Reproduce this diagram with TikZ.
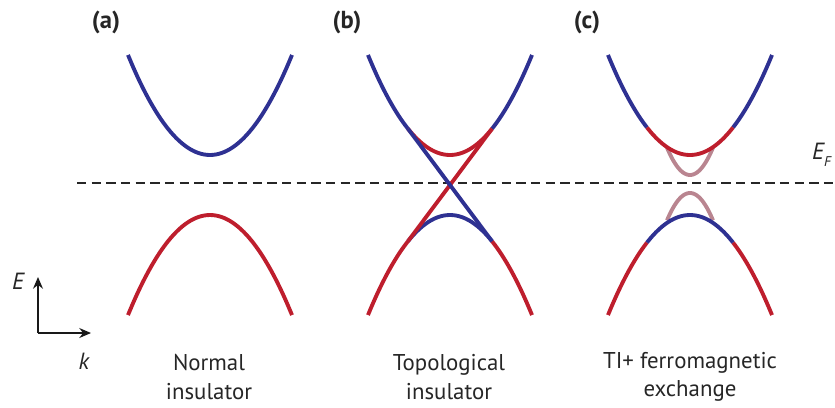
\documentclass[tikz,border=0pt]{standalone}
\usepackage{fontspec}
\setmainfont{PT Sans}
\usetikzlibrary{arrows.meta,positioning}
\definecolor{bandBlue}{HTML}{2E3192}
\definecolor{bandRed}{HTML}{BE1E2D}
\definecolor{bandPink}{HTML}{B98590}

\begin{document}
\begin{tikzpicture}[
    x=0.03cm, y=-0.03cm,
    band/.style={line width=3.3pt, smooth, samples=30},
    fermi/.style={line width=1.6pt, draw=black!85, dash pattern=on 8pt off 4.5pt},
    axis/.style={-{Stealth[length=10pt, width=8.5pt]}, line width=1.5pt, draw=black!90},
    panel/.style={font=\fontsize{21}{24}\selectfont\bfseries, text=black!85},
    caption/.style={align=center, font=\fontsize{19.5}{24}\selectfont, text=black!85},
    axlabel/.style={font=\fontsize{20}{22}\selectfont\itshape, text=black!85}
  ]
    \useasboundingbox (0,0) rectangle (835,407);

    % Fermi level
    \coordinate (fl) at (77,183);
    \coordinate (fr) at (835,183);
    \draw[fermi] (fl) -- (fr);
    \node[axlabel, anchor=base west, inner sep=0pt] (ef) at (812,159)
      {E\raisebox{-0.6ex}{\fontsize{12}{13}\selectfont F}};

    % (a) normal insulator
    \draw[band, bandBlue] plot[domain=-82:82] ({210+\x},{155-0.01487*\x*\x});
    \draw[band, bandRed] plot[domain=-82:82] ({210+\x},{215+0.01487*\x*\x});

    % (b) topological insulator
    \draw[band, bandBlue] plot[domain=-82:-42] ({450+\x},{155-0.01487*\x*\x});
    \draw[band, bandBlue] plot[domain=42:82] ({450+\x},{155-0.01487*\x*\x});
    \draw[band, bandRed] plot[domain=-42:42] ({450+\x},{155-0.01487*\x*\x});
    \draw[band, bandRed] plot[domain=-82:-42] ({450+\x},{215+0.01487*\x*\x});
    \draw[band, bandRed] plot[domain=42:82] ({450+\x},{215+0.01487*\x*\x});
    \draw[band, bandBlue] plot[domain=-42:42] ({450+\x},{215+0.01487*\x*\x});
    \coordinate (btl) at (408,128.8);
    \coordinate (btr) at (492,128.8);
    \coordinate (bbl) at (408,241.2);
    \coordinate (bbr) at (492,241.2);
    \draw[line width=3.3pt, bandRed] (btr) -- (bbl);
    \draw[line width=3.3pt, bandBlue] (btl) -- (bbr);

    % (c) TI with ferromagnetic exchange
    \draw[band, bandPink] plot[domain=-23:23] ({690+\x},{175-0.0517*\x*\x});
    \draw[band, bandPink] plot[domain=-23:23] ({690+\x},{193+0.0517*\x*\x});
    \draw[band, bandBlue] plot[domain=-82:-43] ({690+\x},{155-0.01487*\x*\x});
    \draw[band, bandBlue] plot[domain=43:82] ({690+\x},{155-0.01487*\x*\x});
    \draw[band, bandRed] plot[domain=-43:43] ({690+\x},{155-0.01487*\x*\x});
    \draw[band, bandRed] plot[domain=-82:-43] ({690+\x},{215+0.01487*\x*\x});
    \draw[band, bandRed] plot[domain=43:82] ({690+\x},{215+0.01487*\x*\x});
    \draw[band, bandBlue] plot[domain=-43:43] ({690+\x},{215+0.01487*\x*\x});

    % panel labels
    \node[panel] (la) at (106,22) {(a)};
    \node[panel] (lb) at (347,22) {(b)};
    \node[panel] (lc) at (587,22) {(c)};

    % captions
    \node[caption] (ca) at (209,377) {Normal\\insulator};
    \node[caption] (cb) at (449,377) {Topological\\insulator};
    \node[caption] (cc) at (690,377) {TI+ ferromagnetic\\exchange};

    % axes
    \coordinate (org) at (38,333);
    \coordinate (eend) at (38,277);
    \coordinate (kend) at (91,333);
    \draw[axis] (org) -- (eend);
    \draw[axis] (org) -- (kend);
    \node[axlabel] (le) at (18,281) {E};
    \node[axlabel] (lk) at (84,361) {k};
  \end{tikzpicture}
\end{document}
